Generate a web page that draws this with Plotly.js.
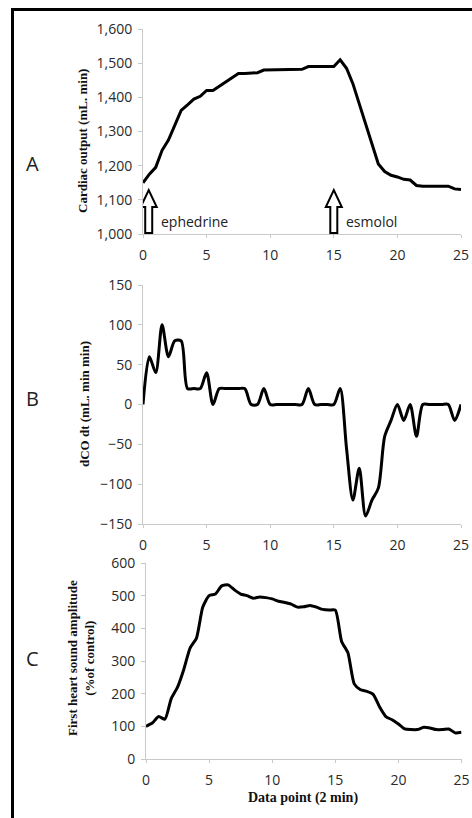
<!DOCTYPE html>
<html>
<head>
<meta charset="utf-8">
<script src="https://cdn.plot.ly/plotly-3.0.1.min.js"></script>
<style>
html,body{margin:0;padding:0;background:#fff;}
#chart{width:472px;height:818px;}
</style>
</head>
<body>
<div id="chart"></div>
<script>
// ---- data ----
const dataPoint = [0,0.5,1,1.5,2,2.5,3,3.5,4,4.5,5,5.5,6,6.5,7,7.5,8,8.5,9,9.5,10,10.5,11,11.5,12,12.5,13,13.5,14,14.5,15,15.5,16,16.5,17,17.5,18,18.5,19,19.5,20,20.5,21,21.5,22,22.5,23,23.5,24,24.5,25];
const cardiacOutput = [1150,1175,1195,1245,1275,1320,1362,1378,1395,1403,1420,1420,1432,1445,1457,1470,1470,1470,1472,1480,1480,1480,1480,1480,1480,1482,1490,1490,1490,1490,1490,1510,1485,1440,1380,1318,1260,1205,1183,1172,1167,1160,1158,1142,1140,1140,1140,1140,1140,1132,1130];
const dCOdt = [0,60,40,100,60,80,80,20,20,20,40,0,20,20,20,20,20,0,0,20,0,0,0,0,0,0,20,0,0,0,0,20,-55,-120,-80,-140,-120,-105,-40,-20,0,-20,0,-40,0,0,0,0,0,-20,0];
const heartSound = [100,110,130,122,185,220,275,340,370,465,500,505,530,533,518,505,500,492,496,494,490,483,479,474,465,466,470,465,458,456,456,360,325,230,212,207,198,160,130,120,107,92,90,90,97,95,90,90,92,80,82];
const xTicks = [0,5,10,15,20,25];
const ticksA = [1000,1100,1200,1300,1400,1500,1600];
const ticksB = [-150,-100,-50,0,50,100,150];
const ticksC = [0,100,200,300,400,500,600];
const eventNames = ['ephedrine','esmolol'];
const eventX = [0.45,15];
const panelLetters = ['A','B','C'];
const yTitles = ['Cardiac output (mL. min)','dCO dt (mL. min min)','First heart sound amplitude<br>(%of control)'];
const xTitle = 'Data point (2 min)';

// ---- layout helpers ----
const W = 472, H = 818;
const px = v => v / W;
const py = v => 1 - v / H;
const axisGray = '#c9c9c9';
const tickFont = {family:'Open Sans, sans-serif', size:14, color:'#2a2a2a'};
const titleFont = {family:'Liberation Serif, Times New Roman, serif', size:13, color:'#111', weight:'bold'};

function xAxis(domain, anchor){
  return {domain:domain, anchor:anchor, range:[0,25], tickvals:xTicks, showgrid:false, zeroline:false,
    showline:true, linecolor:axisGray, linewidth:1, ticks:'outside', ticklen:3, tickcolor:axisGray,
    tickfont:tickFont, ticklabelstandoff:5, fixedrange:true};
}
function yAxis(domain, anchor, range, tv, fmt){
  return {domain:domain, anchor:anchor, range:range, tickvals:tv, tickformat:fmt, showgrid:false, zeroline:false,
    showline:true, linecolor:axisGray, linewidth:1, ticks:'outside', ticklen:4, tickcolor:axisGray,
    tickfont:tickFont, ticklabelstandoff:3, fixedrange:true};
}

const lineStyle = {color:'#000', width:3};
const traces = [
  {x:dataPoint, y:cardiacOutput, xaxis:'x', yaxis:'y', mode:'lines', line:Object.assign({shape:'linear'}, lineStyle), hoverinfo:'skip'},
  {x:dataPoint, y:dCOdt, xaxis:'x2', yaxis:'y2', mode:'lines', line:Object.assign({shape:'spline', smoothing:0.8}, lineStyle), hoverinfo:'skip'},
  {x:dataPoint, y:heartSound, xaxis:'x3', yaxis:'y3', mode:'lines', line:Object.assign({shape:'spline', smoothing:0.6}, lineStyle), hoverinfo:'skip'}
];

const arrowPath = 'M -3.5 1 L 3.5 1 L 3.5 27 L 8 27 L 0 44 L -8 27 L -3.5 27 Z';
const shapes = eventX.map(ev => ({type:'path', xref:'x', yref:'y', xsizemode:'pixel', ysizemode:'pixel',
  xanchor:ev, yanchor:1000, path:arrowPath, fillcolor:'#fff', line:{color:'#000', width:2}}));
shapes.push({type:'rect', xref:'paper', yref:'paper', x0:px(12.5), x1:px(480), y0:py(9.5), y1:py(830),
  line:{color:'#000', width:3}, fillcolor:'rgba(0,0,0,0)', layer:'above'});

const annotations = [];
eventNames.forEach((n,i) => annotations.push({text:n, xref:'x', yref:'y', x:eventX[i], y:1000, xshift:10, yshift:12,
  xanchor:'left', yanchor:'middle', showarrow:false, font:{family:'Open Sans, sans-serif', size:14, color:'#222'}}));
const letterY = [163, 398, 658];
panelLetters.forEach((l,i) => annotations.push({text:l, xref:'paper', yref:'paper', x:px(32), y:py(letterY[i]),
  xanchor:'center', yanchor:'middle', showarrow:false, font:{family:'Open Sans, sans-serif', size:20, color:'#222'}}));
const titleX = [83, 85, 81];
const titleY = [141, 404, 658];
yTitles.forEach((t,i) => annotations.push({text:t, xref:'paper', yref:'paper', x:px(titleX[i]), y:py(titleY[i]),
  xanchor:'center', yanchor:'middle', textangle:-90, showarrow:false, font:titleFont}));
annotations.push({text:xTitle, xref:'paper', yref:'paper', x:px(303), y:py(798), xanchor:'center', yanchor:'middle',
  showarrow:false, font:Object.assign({}, titleFont, {size:14})});

const layout = {
  width:W, height:H, margin:{l:0,r:0,t:0,b:0}, paper_bgcolor:'#fff', plot_bgcolor:'#fff', showlegend:false,
  xaxis: xAxis([px(143), px(461)], 'y'),
  yaxis: yAxis([py(234), py(29)], 'x', [1000,1600], ticksA, ',d'),
  xaxis2: xAxis([px(143), px(461)], 'y2'),
  yaxis2: yAxis([py(524), py(285)], 'x2', [-150,150], ticksB, 'd'),
  xaxis3: xAxis([px(146), px(461.5)], 'y3'),
  yaxis3: yAxis([py(759), py(563)], 'x3', [0,600], ticksC, 'd'),
  shapes:shapes, annotations:annotations
};
Plotly.newPlot('chart', traces, layout, {staticPlot:true, displayModeBar:false});
</script>
</body>
</html>
